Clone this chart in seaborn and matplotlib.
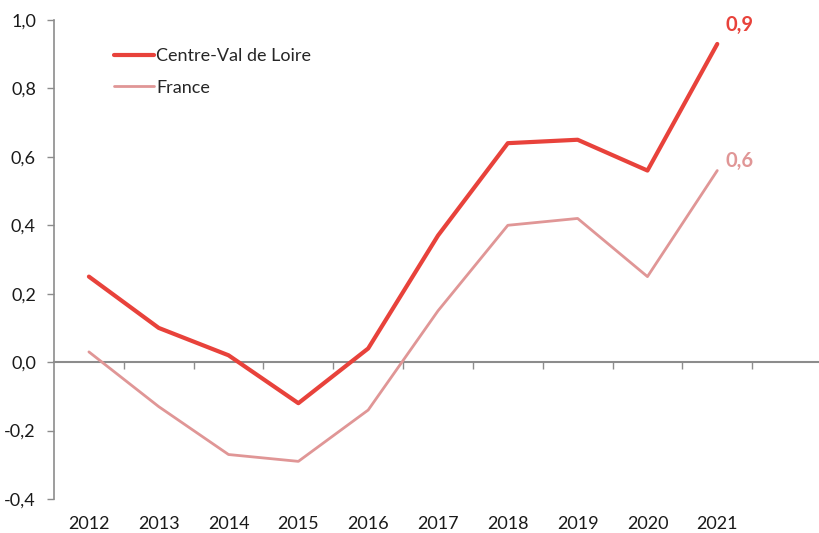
import matplotlib
matplotlib.use("Agg")
import matplotlib.pyplot as plt
import seaborn as sns
import pandas as pd
import numpy as np
from matplotlib.lines import Line2D

years = ["2012", "2013", "2014", "2015", "2016", "2017", "2018", "2019", "2020", "2021"]
centre_val_de_loire = [0.25, 0.10, 0.02, -0.12, 0.04, 0.37, 0.64, 0.65, 0.56, 0.93]
france = [0.03, -0.13, -0.27, -0.29, -0.14, 0.15, 0.40, 0.42, 0.25, 0.56]
yticks = [-0.4, -0.2, 0.0, 0.2, 0.4, 0.6, 0.8, 1.0]

red = "#E8423B"
pink = "#E09696"
grey = "#8C8C8C"
FS = 13

sns.set_theme(style="white")
plt.rcParams["font.family"] = ["Lato", "DejaVu Sans"]

df = pd.DataFrame({
    "pos": list(range(len(years))) * 2,
    "value": centre_val_de_loire + france,
    "serie": ["Centre-Val de Loire"] * len(years) + ["France"] * len(years),
})

fig = plt.figure(figsize=(8.2, 5.33), dpi=100)
ax = fig.add_axes([54 / 820, 1 - 499 / 533, 768 / 820, (499 - 20) / 533])

sns.lineplot(data=df, x="pos", y="value", hue="serie", palette=[red, pink],
             size="serie", sizes={"Centre-Val de Loire": 3.0, "France": 2.0},
             ax=ax, legend=False)

ax.set_xlim(-0.5, 10.5)
ax.set_ylim(-0.4, 1.0)
ax.set_xlabel("")
ax.set_ylabel("")

# y axis
ax.set_yticks(yticks)
ax.set_yticklabels([f"{v:.1f}".replace(".", ",") for v in yticks])
ax.tick_params(axis="y", length=5, width=1, colors=grey, labelcolor="#1a1a1a",
               labelsize=FS, left=True, pad=8)
for s in ["top", "right"]:
    ax.spines[s].set_visible(False)
ax.spines["left"].set_color(grey)
ax.spines["left"].set_linewidth(1.2)
ax.spines["bottom"].set_visible(False)

# year labels at bottom
ax.set_xticks(range(len(years)))
ax.set_xticklabels(years)
ax.tick_params(axis="x", length=0, labelsize=FS, labelcolor="#1a1a1a", pad=12)

# zero axis with tick marks between categories
sec = ax.secondary_xaxis(0.4 / 1.4)
sec.set_xticks(np.arange(0.5, 10.5, 1.0))
sec.set_xticklabels([])
sec.tick_params(axis="x", length=5, width=1, color=grey, direction="out")
sec.spines["bottom"].set_color(grey)
sec.spines["bottom"].set_linewidth(1.5)

# legend
handles = [Line2D([], [], color=red, lw=3.0), Line2D([], [], color=pink, lw=2.0)]
ax.legend(handles, ["Centre-Val de Loire", "France"], loc="upper left",
          bbox_to_anchor=(0.057, 0.975), frameon=False, fontsize=FS,
          handlelength=2.2, handletextpad=0.15, labelspacing=0.85)

# end labels
for vals, col, dy in [(centre_val_de_loire, red, 14), (france, pink, 7)]:
    v = vals[-1]
    ax.annotate(f"{v:.1f}".replace(".", ","), xy=(len(years) - 1, v),
                xytext=(6, dy), textcoords="offset points", color=col,
                fontsize=14.5, fontweight="bold", va="center", ha="left")

fig.savefig("out.png", dpi=100)
